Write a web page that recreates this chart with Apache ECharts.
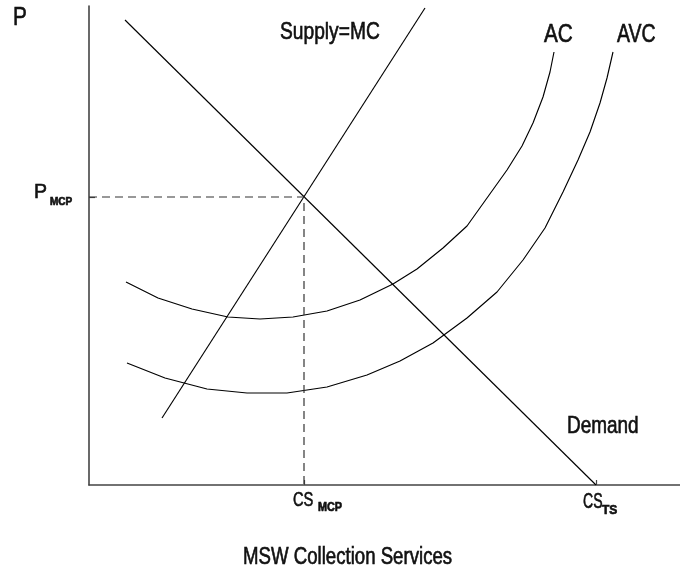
<!DOCTYPE html>
<html><head><meta charset="utf-8">
<script src="https://cdn.jsdelivr.net/npm/echarts@6/dist/echarts.min.js"></script>
<style>html,body{margin:0;padding:0;background:#fff}#c{width:680px;height:573px}</style>
</head><body><div id="c"></div><script>
// data in chart units (x: quantity of collection services, y: price)
const demand = [[36,465],[507,0]];
const supply = [[73,67],[336,477]];
const acCurve = [[37,203],[69,187],[103,176],[139,168],[171,166],[204,168],[238,174],[271,185],[304,201],[328,216],[354,237],[378,259],[398,287],[418,315],[433,339],[444,362],[454,388],[461,413],[465,433]];
const avcCurve = [[38,122],[76,107],[118,96],[158,92],[198,92],[238,98],[278,110],[311,124],[344,142],[378,167],[408,193],[434,225],[456,257],[474,293],[489,325],[501,353],[511,382],[518,407],[524,433]];
const equilibrium = [215,288];
const xTickValues = [215,507];
const xTickMain = ['CS','CS'];
const xTickSub = ['MCP','TS'];
const yTickValues = [288];
const yTickMain = ['P'];
const yTickSub = ['MCP'];
const curveNames = ['Demand','Supply=MC','AC','AVC'];
const axisNames = {x:'MSW Collection Services', y:'P'};

const F = "'Liberation Sans',Arial,sans-serif";
const lineStyle = {color:'#000',width:1.15};
const chart = echarts.init(document.getElementById('c'),null,{renderer:'canvas'});
chart.setOption({
  animation:false,
  backgroundColor:'#fff',
  grid:{left:89,right:0,top:6,bottom:88,containLabel:false},
  xAxis:{type:'value',min:0,max:591,
    axisLine:{show:true,onZero:false,lineStyle:{color:'#444',width:1.6}},
    axisTick:{show:true,inside:true,length:5,customValues:xTickValues,lineStyle:{color:'#444',width:1.2}},
    splitLine:{show:false},axisLabel:{show:false}},
  yAxis:{type:'value',min:0,max:479,
    axisLine:{show:true,onZero:false,lineStyle:{color:'#444',width:1.6}},
    axisTick:{show:true,inside:true,length:6,customValues:yTickValues,lineStyle:{color:'#444',width:1.2}},
    splitLine:{show:false},axisLabel:{show:false}},
  series:[
    {name:curveNames[0],type:'line',data:demand,symbol:'none',lineStyle:lineStyle},
    {name:curveNames[1],type:'line',data:supply,symbol:'none',lineStyle:lineStyle},
    {name:curveNames[2],type:'line',data:acCurve,symbol:'none',smooth:false,lineStyle:lineStyle},
    {name:curveNames[3],type:'line',data:avcCurve,symbol:'none',smooth:false,lineStyle:lineStyle},
    {name:'guide',type:'line',data:[[0,equilibrium[1]],equilibrium,[equilibrium[0],0]],symbol:'none',
      lineStyle:{color:'#333',width:1.2,type:[8,5]}}
  ]
});

function txt(text, x, yc, size, sx, bold){
  return {type:'text', x:x, y:yc, scaleX:sx, silent:true,
    style:{text:text, font:(bold?'bold ':'')+size+'px '+F, fill:'#111', stroke:'#000', lineWidth:0.6,
      textAlign:'left', textVerticalAlign:'middle'}};
}
const g = [];
// axis names
g.push(txt(axisNames.y, 13, 18, 26, 0.8));
g.push(txt(axisNames.x, 243, 558, 23, 0.81));
// curve labels
g.push(txt(curveNames[1], 280, 32, 24, 0.8));
g.push(txt(curveNames[2], 544, 35, 25, 0.83));
g.push(txt(curveNames[3], 617, 35, 25, 0.78));
g.push(txt(curveNames[0], 567, 426, 24, 0.79));
// tick labels positioned through the axis scales
const xOpts = [
  {dx:-11, main:21, msx:0.7, my:500.5, sdx:14, sub:12, ssx:0.9, sy:507.5},
  {dx:-13, main:22, msx:0.64, my:502,  sdx:6,  sub:12, ssx:1.0, sy:510.5}
];
xTickValues.forEach((v,i)=>{
  const p = chart.convertToPixel({gridIndex:0},[v,0]);
  const o = xOpts[i];
  g.push(txt(xTickMain[i], p[0]+o.dx, o.my, o.main, o.msx));
  g.push(txt(xTickSub[i], p[0]+o.sdx, o.sy, o.sub, o.ssx, true));
});
yTickValues.forEach((v,i)=>{
  const p = chart.convertToPixel({gridIndex:0},[0,v]);
  g.push(txt(yTickMain[i], 34, p[1]-4.5, 21, 0.93));
  g.push(txt(yTickSub[i], 50, p[1]+5.5, 10, 1.0, true));
});
chart.setOption({graphic:g});
</script></body></html>
